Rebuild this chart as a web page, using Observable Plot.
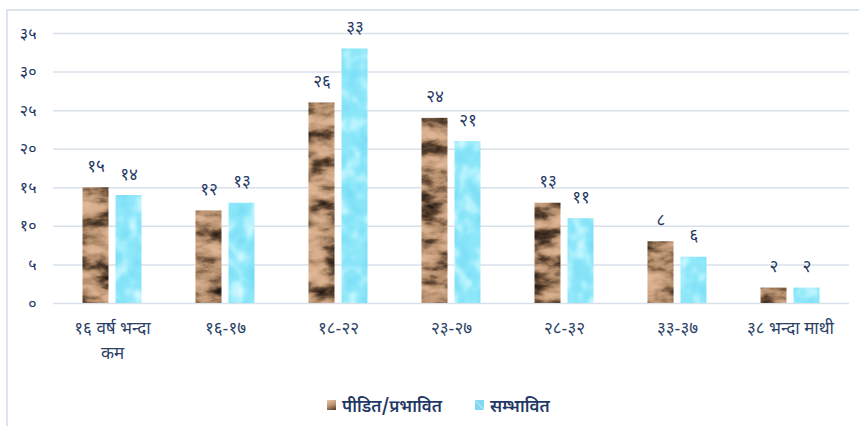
<!DOCTYPE html>
<html>
<head>
<meta charset="utf-8">
<script src="https://cdn.jsdelivr.net/npm/d3@7"></script>
<script src="https://cdn.jsdelivr.net/npm/@observablehq/plot@0.6"></script>
<style>
  html, body { margin: 0; padding: 0; background: #fff; }
  body { width: 859px; height: 426px; position: relative; overflow: hidden;
         font-family: "Noto Sans Devanagari", "Noto Sans", "Lohit Devanagari", sans-serif; }
  #frame { position: absolute; left: 6px; top: 9px; width: 860px; height: 430px;
           border-left: 2px solid #dbe4ef; border-top: 2px solid #dbe4ef; pointer-events: none; }
  #chart { position: absolute; left: 0; top: 0; }
  #legend { position: absolute; left: 327px; top: 397px; display: flex; align-items: center;
            font-size: 17px; font-weight: 600; color: #1f3864; }
  .item { display: flex; align-items: center; }
  .sw { width: 9px; height: 10px; margin-right: 6px; margin-top: -6px; }
</style>
</head>
<body>
<div id="chart"></div>
<div id="frame"></div>
<div id="legend"></div>
<script>
// ---- data ----
const categories = ["१६ वर्ष भन्दा कम", "१६-१७", "१८-२२", "२३-२७", "२८-३२", "३३-३७", "३८ भन्दा माथी"];
const categoryLabels = ["१६ वर्ष भन्दा\nकम", "१६-१७", "१८-२२", "२३-२७", "२८-३२", "३३-३७", "३८ भन्दा माथी"];
const seriesNames = ["पीडित/प्रभावित", "सम्भावित"];
const affected = [15, 12, 26, 24, 13, 8, 2];
const potential = [14, 13, 33, 21, 11, 6, 2];
const yTicks = [0, 5, 10, 15, 20, 25, 30, 35];

const devaDigits = "०१२३४५६७८९";
const deva = n => String(n).replace(/[0-9]/g, d => devaDigits[+d]);

const rowsA = categories.map((c, i) => ({category: c, value: affected[i], series: seriesNames[0]}));
const rowsP = categories.map((c, i) => ({category: c, value: potential[i], series: seriesNames[1]}));

const navy = "#1f3864";
const grid = "#d8e0ea";

const svg = Plot.plot({
  width: 859,
  height: 385,
  marginLeft: 53,
  marginRight: 10,
  marginTop: 33,
  marginBottom: 82,
  style: {fontFamily: "'Noto Sans Devanagari', 'Noto Sans', sans-serif", background: "transparent"},
  x: {domain: categories, paddingInner: 0.771, paddingOuter: 0.3855},
  y: {domain: [0, 35]},
  marks: [
    Plot.gridY(yTicks, {stroke: grid, strokeOpacity: 1, strokeWidth: 1.5}),
    Plot.axisY(yTicks, {tickSize: 0, tickPadding: 17, fontSize: 16, fill: navy, tickFormat: deva, label: null}),
    Plot.axisX({tickSize: 0, tickPadding: 12, fontSize: 17, fill: "#2b4266", lineHeight: 1.5,
                tickFormat: d => categoryLabels[categories.indexOf(d)], label: null}),
    Plot.barY(rowsA, {x: "category", y: "value", dx: -16.5, fill: "#c49a78"}),
    Plot.barY(rowsP, {x: "category", y: "value", dx: 16.5, fill: "#8ee0f4"}),
    Plot.text(rowsA, {x: "category", y: "value", dx: -16.5, dy: -16, lineAnchor: "bottom",
                      text: d => deva(d.value), fontSize: 17, fill: navy}),
    Plot.text(rowsP, {x: "category", y: "value", dx: 16.5, dy: -16, lineAnchor: "bottom",
                      text: d => deva(d.value), fontSize: 17, fill: navy})
  ]
});

// texture filters
const defs = d3.select(svg).insert("defs", ":first-child");
function texture(id, type, freq, oct, seed, R, G, B) {
  const f = defs.append("filter").attr("id", id).attr("x", 0).attr("y", 0).attr("width", 1).attr("height", 1)
    .attr("color-interpolation-filters", "sRGB");
  f.append("feTurbulence").attr("type", type).attr("baseFrequency", freq).attr("numOctaves", oct)
    .attr("seed", seed).attr("result", "n");
  f.append("feColorMatrix").attr("in", "n").attr("type", "matrix")
    .attr("values", "1 0 0 0 0  1 0 0 0 0  1 0 0 0 0  0 0 0 0 1").attr("result", "g");
  const ct = f.append("feComponentTransfer").attr("in", "g").attr("result", "c");
  ct.append("feFuncR").attr("type", "table").attr("tableValues", R);
  ct.append("feFuncG").attr("type", "table").attr("tableValues", G);
  ct.append("feFuncB").attr("type", "table").attr("tableValues", B);
  f.append("feComposite").attr("in", "c").attr("in2", "SourceGraphic").attr("operator", "in");
}
texture("rock", "fractalNoise", "0.035 0.07", 4, 11,
  "0.1 0.14 0.38 0.7 0.84 0.88 0.9", "0.07 0.1 0.28 0.55 0.68 0.72 0.75", "0.05 0.08 0.2 0.42 0.55 0.6 0.62");
texture("water", "fractalNoise", "0.07 0.06", 2, 3,
  "0.42 0.5 0.56 0.74 0.95", "0.85 0.88 0.91 0.96 1", "0.95 0.97 0.98 1 1");

const barGroups = d3.select(svg).selectAll("g[aria-label='bar']").nodes();
if (barGroups[0]) barGroups[0].setAttribute("filter", "url(#rock)");
if (barGroups[1]) barGroups[1].setAttribute("filter", "url(#water)");

document.getElementById("chart").appendChild(svg);

// legend
const lg = document.getElementById("legend");
const swatchStyles = [
  "background: linear-gradient(160deg, #e6c7a8 0%, #b88c6a 55%, #4a3426 100%);",
  "background: linear-gradient(45deg, #7fd8ef 0%, #7fd8ef 45%, #d8f6ff 50%, #7fd8ef 55%, #7fd8ef 100%);"
];
seriesNames.forEach((s, i) => {
  const it = document.createElement("div");
  it.className = "item";
  if (i > 0) it.style.marginLeft = "33px";
  const sw = document.createElement("div");
  sw.className = "sw";
  sw.setAttribute("style", swatchStyles[i]);
  const t = document.createElement("span");
  t.textContent = s;
  it.appendChild(sw); it.appendChild(t);
  lg.appendChild(it);
});
</script>
</body>
</html>
